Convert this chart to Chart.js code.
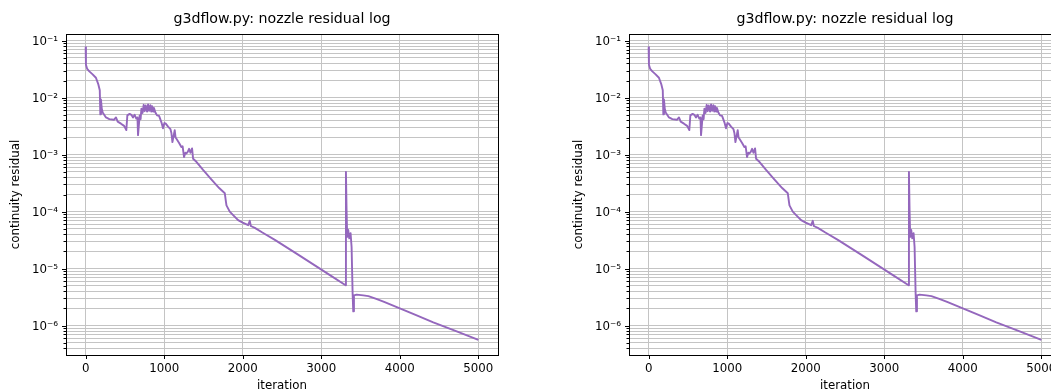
<!DOCTYPE html>
<html>
<head>
<meta charset="utf-8">
<script src="https://cdn.jsdelivr.net/npm/chart.js@4.4.0/dist/chart.umd.min.js"></script>
<style>
  html, body { margin: 0; padding: 0; background: #fff; overflow: hidden; width: 1051px; height: 392px; }
  canvas { position: absolute; top: 0; }
  #c1 { left: 0px; }
  #c2 { left: 563px; }
</style>
</head>
<body>
<canvas id="c1" width="525" height="392"></canvas>
<canvas id="c2" width="525" height="392"></canvas>
<script>
// ---- data ----
const chartTitle = 'g3dflow.py: nozzle residual log';
const xLabel = 'iteration';
const yLabel = 'continuity residual';

const iterations = [
  0, 4, 20, 47, 89, 131, 162, 180, 187, 195, 205, 217, 259, 302, 360, 386, 408, 450, 490, 518,
  531, 560, 582, 603, 624, 645, 660, 667, 688, 700, 710, 725, 739, 752, 765, 782, 795, 808, 824, 835,
  846, 858, 870, 888, 909, 935, 950, 965, 985, 1003, 1020, 1049, 1080, 1092, 1105, 1134, 1145, 1156, 1190, 1219,
  1235, 1253, 1270, 1283, 1300, 1317, 1334, 1355, 1368, 1410, 1495, 1600, 1700, 1772, 1786, 1793, 1835, 1878, 1941, 2000,
  2069, 2090, 2103, 2154, 2250, 2409, 2700, 2982, 3110, 3310, 3314, 3322, 3330, 3343, 3356, 3373, 3386, 3399, 3407, 3416,
  3450, 3535, 3600, 3700, 3800, 3900, 4000, 4200, 4426, 4700, 5000
];
const residuals = [
  0.077, 0.038, 0.032, 0.029, 0.0257, 0.0224, 0.0171, 0.0135, 0.0051, 0.0093, 0.0065, 0.0055, 0.0045, 0.0042, 0.0041, 0.0045, 0.0038, 0.0035, 0.0032, 0.0027,
  0.0049, 0.0052, 0.0050, 0.0045, 0.0050, 0.0043, 0.0045, 0.0022, 0.0049, 0.0042, 0.0064, 0.0054, 0.0075, 0.0058, 0.0073, 0.0057, 0.0076, 0.0059, 0.0074, 0.0057,
  0.0071, 0.0057, 0.0066, 0.0055, 0.0049, 0.0048, 0.0042, 0.0037, 0.0029, 0.0036, 0.0035, 0.0031, 0.0028, 0.0024, 0.00166, 0.0027, 0.0020, 0.0019, 0.0016, 0.00136,
  0.00140, 0.00091, 0.00108, 0.00105, 0.00112, 0.00127, 0.00108, 0.00129, 0.00085, 0.00075, 0.00054, 0.00037, 0.00026, 0.00021, 0.00015, 0.000129, 0.0001, 0.000087, 0.000071, 0.000064,
  0.000058, 0.000069, 0.000056, 0.000052, 0.000043, 0.000032, 0.0000178, 0.0000100, 0.0000077, 0.0000051, 0.0005, 0.000107, 0.000036, 0.000048, 0.000034, 0.000042, 0.000024, 0.0000037, 0.00000178, 0.0000034,
  0.0000035, 0.0000034, 0.0000033, 0.00000295, 0.0000026, 0.00000228, 0.0000020, 0.00000154, 0.00000114, 0.00000082, 0.00000056
];

const xTicks = [0, 1000, 2000, 3000, 4000, 5000];
const yDecades = [1e-7, 1e-6, 1e-5, 1e-4, 1e-3, 1e-2, 1e-1];
const xRange = [-250, 5250];
const yRange = [3.05e-7, 0.131];

// ---- helpers ----
const SUP = {'-': '\u207B', '0': '\u2070', '1': '\u00B9', '2': '\u00B2', '3': '\u00B3', '4': '\u2074', '5': '\u2075', '6': '\u2076', '7': '\u2077', '8': '\u2078', '9': '\u2079'};
function pow10Label(v) {
  const e = Math.round(Math.log10(v));
  if (Math.abs(v / Math.pow(10, e) - 1) > 1e-6) return '';
  return '10' + String(e).split('').map(c => SUP[c]).join('');
}
function buildLogTicks() {
  const out = [];
  yDecades.forEach(d => {
    for (let m = 1; m <= 9; m++) {
      const v = d * m;
      if (v >= yRange[0] && v <= yRange[1]) out.push({ value: v, major: m === 1 });
    }
  });
  return out;
}

const FONT = "'DejaVu Sans', sans-serif";
const GRID = '#c4c4c4';

const framePlugin = {
  id: 'frame',
  afterDraw(chart) {
    const { ctx, chartArea: a, scales } = chart;
    ctx.save();
    ctx.strokeStyle = '#000';
    ctx.lineWidth = 1;
    ctx.beginPath();
    scales.y.ticks.forEach(t => {
      const py = Math.round(scales.y.getPixelForValue(t.value)) + 0.5;
      const len = t.major ? 4 : 2.5;
      ctx.moveTo(Math.round(a.left) - len, py);
      ctx.lineTo(Math.round(a.left), py);
    });
    scales.x.ticks.forEach(t => {
      const px = Math.round(scales.x.getPixelForValue(t.value)) + 0.5;
      ctx.moveTo(px, Math.round(a.bottom));
      ctx.lineTo(px, Math.round(a.bottom) + 4);
    });
    ctx.stroke();
    ctx.strokeRect(Math.round(a.left) + 0.5, Math.round(a.top) + 0.5,
                   Math.round(a.right - a.left), Math.round(a.bottom - a.top));
    ctx.restore();
  }
};

function makeChart(id) {
  const pts = iterations.map((x, i) => ({ x: x, y: residuals[i] }));
  return new Chart(document.getElementById(id), {
    type: 'line',
    data: {
      datasets: [{
        data: pts,
        borderColor: '#9467bd',
        borderWidth: 1.9,
        borderJoinStyle: 'round',
        borderCapStyle: 'butt',
        pointRadius: 0,
        tension: 0,
        fill: false
      }]
    },
    options: {
      responsive: false,
      animation: false,
      events: [],
      layout: { padding: { left: 0, right: 27, top: 0, bottom: 0 } },
      plugins: {
        legend: { display: false },
        tooltip: { enabled: false },
        title: {
          display: true,
          text: chartTitle,
          fullSize: false,
          color: '#000',
          font: { family: FONT, size: 14.2, weight: 'normal', lineHeight: 1.2 },
          padding: { top: 11, bottom: 6 }
        }
      },
      scales: {
        x: {
          type: 'linear',
          min: xRange[0],
          max: xRange[1],
          bounds: 'data',
          afterBuildTicks: s => { s.ticks = xTicks.map(v => ({ value: v })); },
          afterFit: s => { s.height = 37; },
          ticks: {
            autoSkip: false,
            maxRotation: 0,
            color: '#000',
            padding: 3,
            font: { family: FONT, size: 11.8 },
            callback: v => String(v)
          },
          grid: { color: GRID, lineWidth: 1, drawTicks: true, tickLength: 4, tickColor: 'rgba(0,0,0,0)' },
          border: { display: false },
          title: {
            display: true,
            text: xLabel,
            color: '#000',
            font: { family: FONT, size: 11.8, lineHeight: 1.2 },
            padding: { top: 0, bottom: -1 }
          }
        },
        y: {
          type: 'logarithmic',
          min: yRange[0],
          max: yRange[1],
          bounds: 'data',
          afterBuildTicks: s => { s.ticks = buildLogTicks(); },
          afterFit: s => { s.width = 66; },
          ticks: {
            autoSkip: false,
            color: '#000',
            padding: 4,
            labelOffset: 1,
            font: { family: FONT, size: 11.8 },
            callback: v => pow10Label(v)
          },
          grid: { color: GRID, lineWidth: 1, drawTicks: true, tickLength: 4, tickColor: 'rgba(0,0,0,0)' },
          border: { display: false },
          title: {
            display: true,
            text: yLabel,
            color: '#000',
            font: { family: FONT, size: 11.8, lineHeight: 1.2 },
            padding: { top: 9, bottom: 0 }
          }
        }
      }
    },
    plugins: [framePlugin]
  });
}

makeChart('c1');
makeChart('c2');
</script>
</body>
</html>
